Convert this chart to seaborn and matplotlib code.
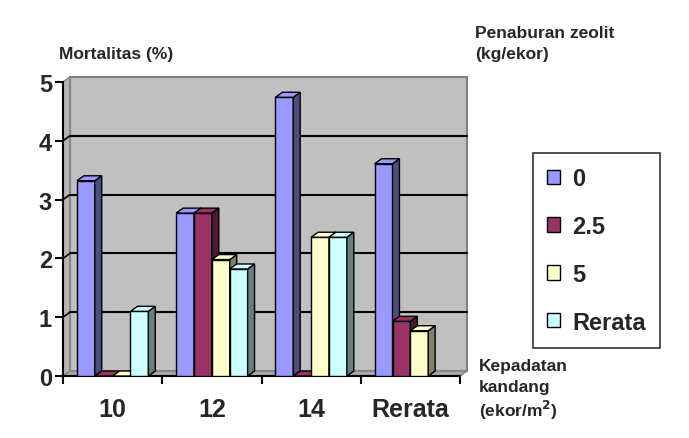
import numpy as np
import pandas as pd
import matplotlib
matplotlib.use("Agg")
import matplotlib.pyplot as plt
from matplotlib.patches import Polygon, Patch
import seaborn as sns

categories = ["10", "12", "14", "Rerata"]
series_names = ["0", "2.5", "5", "Rerata"]
vals_0 = [3.32, 2.77, 4.74, 3.61]
vals_25 = [0.0, 2.77, 0.0, 0.93]
vals_5 = [0.0, 1.98, 2.36, 0.77]
vals_rerata = [1.10, 1.82, 2.36, np.nan]
yticks = [0, 1, 2, 3, 4, 5]

front_colors = ["#9999FF", "#993366", "#FFFFCC", "#CCFFFF"]
side_colors = ["#4D4D80", "#4C1A33", "#808066", "#668080"]

rows = []
for s, vals in zip(series_names, [vals_0, vals_25, vals_5, vals_rerata]):
    for c, v in zip(categories, vals):
        if not np.isnan(v):
            rows.append({"cat": c, "series": s, "val": v})
df = pd.DataFrame(rows)

sns.set_theme(style="white")
plt.rcParams["font.family"] = ["Liberation Sans", "DejaVu Sans"]
plt.rcParams["font.weight"] = "bold"

fig = plt.figure(figsize=(6.89, 4.39), dpi=100)
ax = fig.add_axes([63 / 689, 1 - 377 / 439, 397 / 689, 294 / 439])
ax.set_facecolor("none")

sns.barplot(data=df, x="cat", y="val", hue="series", order=categories,
            hue_order=series_names, palette=front_colors, width=0.72,
            edgecolor="black", linewidth=1.0, errorbar=None, legend=False,
            ax=ax, saturation=1)

x0l, x1r = -0.5, 3.5
ymax = yticks[-1]
dx, dy = 0.07, 0.085

# back wall, side wall and floor (3D frame)
wall = Polygon([(x0l + dx, dy), (x1r + dx, dy), (x1r + dx, ymax + dy), (x0l + dx, ymax + dy)],
               closed=True, facecolor="#C0C0C0", edgecolor="#808080", linewidth=1.5,
               zorder=0.5, clip_on=False)
side_wall = Polygon([(x0l, 0), (x0l + dx, dy), (x0l + dx, ymax + dy), (x0l, ymax)],
                    closed=True, facecolor="#B4B4B4", edgecolor="#808080", linewidth=1.0,
                    zorder=0.6, clip_on=False)
floor = Polygon([(x0l, 0), (x0l + dx, dy), (x1r + dx, dy), (x1r, 0)],
                closed=True, facecolor="#A8A8A8", edgecolor="#808080", linewidth=1.0,
                zorder=0.6, clip_on=False)
for p in (wall, side_wall, floor):
    ax.add_patch(p)
for y in yticks[1:-1]:
    ax.plot([x0l + dx, x1r + dx], [y + dy, y + dy], color="black", linewidth=1.5,
            zorder=1, clip_on=False)
    ax.plot([x0l, x0l + dx], [y, y + dy], color="black", linewidth=1.2,
            zorder=1, clip_on=False)

# 3D faces derived from each drawn bar
color_map = {matplotlib.colors.to_hex(fc): sc for fc, sc in zip(front_colors, side_colors)}
bars = [p for p in ax.patches if isinstance(p, matplotlib.patches.Rectangle)]
bars.sort(key=lambda p: p.get_x())
for i, p in enumerate(bars):
    x0, w, h = p.get_x(), p.get_width(), p.get_height()
    if np.isnan(h):
        continue
    fc = matplotlib.colors.to_hex(p.get_facecolor())
    sc = color_map.get(fc, "#555555")
    z = 3 + i * 0.01
    p.set_zorder(z)
    side = Polygon([(x0 + w, 0), (x0 + w + dx, dy), (x0 + w + dx, h + dy), (x0 + w, h)],
                   closed=True, facecolor=sc, edgecolor="black", linewidth=1.0, zorder=z)
    top = Polygon([(x0, h), (x0 + dx, h + dy), (x0 + w + dx, h + dy), (x0 + w, h)],
                  closed=True, facecolor=fc, edgecolor="black", linewidth=1.0, zorder=z)
    ax.add_patch(side)
    ax.add_patch(top)

ax.set_xlim(x0l, x1r)
ax.set_ylim(0, ymax)
ax.set_yticks(yticks)
ax.set_yticklabels([str(t) for t in yticks], fontsize=17, fontweight="bold")
ax.set_xticks(range(len(categories)))
ax.set_xticklabels(categories, fontsize=18, fontweight="bold")
ax.set_xticks(np.arange(-0.5, 4.0, 1.0), minor=True)
ax.tick_params(axis="x", which="major", length=0, pad=15)
ax.tick_params(axis="x", which="minor", length=6, width=1.5, color="black", direction="out", bottom=True)
ax.tick_params(axis="y", length=6, width=1.5, color="black", direction="out", left=True, pad=2)
ax.set_xlabel("")
ax.set_ylabel("")
ax.spines["top"].set_visible(False)
ax.spines["right"].set_visible(False)
ax.spines["left"].set_color("black")
ax.spines["left"].set_linewidth(1.5)
ax.spines["left"].set_zorder(2)
ax.spines["bottom"].set_color("black")
ax.spines["bottom"].set_linewidth(1.5)
ax.spines["bottom"].set_zorder(2)

fig.text(59 / 689, 1 - 55 / 439, "Mortalitas (%)", fontsize=12.5, fontweight="bold", va="center", ha="left")
fig.text(475 / 689, 1 - 33 / 439, "Penaburan zeolit", fontsize=12.5, fontweight="bold", va="center", ha="left")
fig.text(475 / 689, 1 - 55 / 439, "(kg/ekor)", fontsize=12.5, fontweight="bold", va="center", ha="left")
fig.text(479 / 689, 1 - 366 / 439, "Kepadatan", fontsize=12.5, fontweight="bold", va="center", ha="left")
fig.text(479 / 689, 1 - 388 / 439, "kandang", fontsize=12.5, fontweight="bold", va="center", ha="left")
fig.text(479 / 689, 1 - 410 / 439, "(ekor/m$^\\mathbf{2}$)", fontsize=12.5, fontweight="bold",
         va="center", ha="left")

handles = [Patch(facecolor=c, edgecolor="black", linewidth=1.0) for c in front_colors]
leg = fig.legend(handles, series_names, loc="upper left", bbox_to_anchor=(533 / 689, 1 - 154 / 439),
                 prop={"size": 17, "weight": "bold", "family": "Liberation Sans"},
                 frameon=True, fancybox=False, handlelength=0.55, handleheight=0.55,
                 handletextpad=0.5, labelspacing=1.05, borderpad=0.6, borderaxespad=0)
leg.get_frame().set_edgecolor("black")
leg.get_frame().set_linewidth(1.2)

fig.savefig("out.png", dpi=100)
